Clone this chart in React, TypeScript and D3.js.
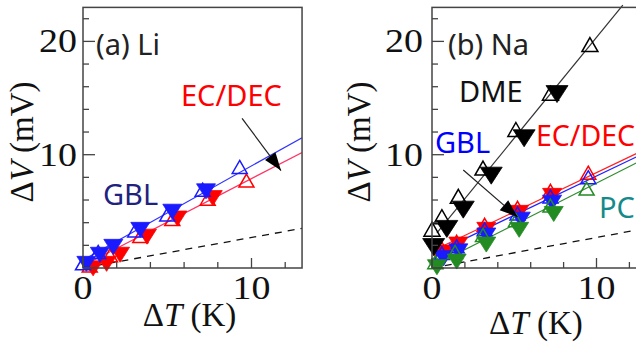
import * as d3 from 'd3';

// axis ticks
const xTicks = [0, 2, 4, 6, 8, 10, 12];
const xLabels = [0, 10];
const yTicks = [0, 2, 4, 6, 8, 10, 12, 14, 16, 18, 20, 22];
const yLabels = [0, 10, 20];

// (a) Li
const liEcdecOpenT = [0.4, 1.6, 3.4, 5.3, 7.4, 9.7];
const liEcdecOpenV = [0.1, 1.0, 2.7, 4.2, 6.0, 7.6];
const liEcdecFilledT = [0.6, 1.4, 2.2, 3.8, 5.6, 7.7];
const liEcdecFilledV = [0.1, 0.5, 1.3, 2.9, 4.5, 6.3];
const liEcdecFit = [[0, 0.2], [13, 10.2]];
const liGblOpenT = [0.0, 0.9, 3.1, 5.0, 7.1, 9.3];
const liGblOpenV = [0.3, 1.3, 3.2, 4.6, 6.8, 8.8];
const liGblFilledT = [0.2, 1.0, 1.8, 3.4, 5.3, 7.3];
const liGblFilledV = [0.5, 1.3, 2.0, 3.5, 5.1, 6.9];
const liGblFit = [[0, 0.7], [13, 11.5]];

// (b) Na
const naEcdecOpenT = [0.6, 1.5, 3.2, 5.2, 7.2, 9.5];
const naEcdecOpenV = [1.6, 2.2, 3.7, 5.2, 6.7, 8.3];
const naEcdecFilledT = [0.7, 1.6, 3.3, 5.3, 7.3];
const naEcdecFilledV = [1.5, 2.2, 3.5, 5.0, 6.5];
const naEcdecFit = [[0.3, 1.7], [13, 10.5]];
const naGblOpenT = [0.6, 1.5, 3.2, 5.2, 7.2, 9.5];
const naGblOpenV = [1.2, 1.8, 3.3, 4.7, 6.2, 7.9];
const naGblFilledT = [0.7, 1.6, 3.3, 5.4, 7.3];
const naGblFilledV = [1.0, 1.6, 3.0, 4.4, 5.9];
const naGblFit = [[0.3, 1.4], [13, 10.2]];
const naPcOpenT = [0.2, 1.4, 3.1, 5.1, 7.2, 9.4];
const naPcOpenV = [0.4, 1.3, 2.8, 4.1, 5.4, 6.9];
const naPcFilledT = [0.3, 1.5, 3.3, 5.3, 7.4];
const naPcFilledV = [0.2, 0.7, 2.2, 3.5, 4.9];
const naPcFit = [[0.2, 0.3], [13, 9.7]];
const naDmeOpenT = [0.0, 0.6, 1.6, 3.1, 5.1, 7.2, 9.6];
const naDmeOpenV = [3.3, 4.4, 6.2, 8.7, 12.1, 15.3, 19.6];
const naDmeFilledT = [0.1, 0.9, 1.9, 3.6, 5.6, 7.6];
const naDmeFilledV = [2.0, 3.6, 5.3, 8.3, 11.6, 15.5];
const naDmeFit = [[0.3, 3.1], [11.6, 23.2]];

// dashed reference line
const refLine = [[0, 0], [13, 3.5]];

const serif = "'Liberation Serif', 'Times New Roman', serif";
const sans = "'Noto Sans', sans-serif";

const RED = '#ff0000';
const BLUE = '#1a1aff';
const GREEN = '#228b22';

function tri(w: number, h: number, down: boolean) {
  const s = down ? -1 : 1;
  return `M0,${-s * h * 0.6}L${w / 2},${s * h * 0.4}L${-w / 2},${s * h * 0.4}Z`;
}

type Series = {
  color: string;
  line: string;
  openT: number[];
  openV: number[];
  filledT: number[];
  filledV: number[];
  fit: number[][];
  big?: boolean;
};

function Panel(props: {
  x0: number;
  unit: number;
  series: Series[];
  arrow: number[][];
  titleX: number;
  xTitleY: number;
  tickLabelDx: number;
  children?: any;
}) {
  const { x0, series, arrow } = props;
  const x = d3.scaleLinear().domain([0, 13]).range([x0, x0 + 13 * props.unit]);
  const y = d3.scaleLinear().domain([0, 23]).range([268, 7.4]);
  const line = d3
    .line<number[]>()
    .x((d) => x(d[0]))
    .y((d) => y(d[1]));
  const [r0, r1] = x.range();
  const clipId = `clip${x0}`;
  const ax = x(arrow[0][0]);
  const ay = y(arrow[0][1]);
  const bx = x(arrow[1][0]);
  const by = y(arrow[1][1]);
  const ang = (Math.atan2(by - ay, bx - ax) * 180) / Math.PI;

  return (
    <g>
      <defs>
        <clipPath id={clipId}>
          <rect x={r0} y={0} width={r1 - r0} height={268} />
        </clipPath>
      </defs>
      <g clipPath={`url(#${clipId})`}>
        <path d={line(refLine) || ''} stroke="#111" strokeWidth={1.3} strokeDasharray="7,6" fill="none" />
        {series.map((s, i) => (
          <path key={i} d={line(s.fit) || ''} stroke={s.line} strokeWidth={1.2} fill="none" />
        ))}
      </g>
      {series.map((s, i) => (
        <g key={i}>
          {s.openT.map((t, j) => (
            <path
              key={'o' + j}
              d={tri(s.big ? 16 : 15, s.big ? 14 : 13, false)}
              transform={`translate(${x(t)},${y(s.openV[j])})`}
              fill="none"
              stroke={s.color}
              strokeWidth={1.5}
            />
          ))}
          {s.filledT.map((t, j) => (
            <path
              key={'f' + j}
              d={tri(s.big ? 22 : 19, s.big ? 17 : 15, true)}
              transform={`translate(${x(t)},${y(s.filledV[j])})`}
              fill={s.color}
              stroke={s.color}
              strokeWidth={0.8}
            />
          ))}
        </g>
      ))}
      {/* arrow */}
      <line x1={ax} y1={ay} x2={bx} y2={by} stroke="#222" strokeWidth={1.2} />
      <path d="M0,0L-18,-6.5L-18,6.5Z" fill="#000" transform={`translate(${bx},${by}) rotate(${ang})`} />
      {/* frame */}
      <rect x={r0} y={7.4} width={r1 - r0} height={268 - 7.4} fill="none" stroke="#444" strokeWidth={1.5} />
      {yTicks.map((t) => (
        <line key={'y' + t} x1={r0} x2={r0 + (t % 10 === 0 ? 12 : 6)} y1={y(t)} y2={y(t)} stroke="#444" strokeWidth={1.3} />
      ))}
      {xTicks.map((t) => (
        <line key={'x' + t} x1={x(t)} x2={x(t)} y1={268} y2={268 - (t % 10 === 0 ? 10 : 6)} stroke="#444" strokeWidth={1.3} />
      ))}
      {yLabels.map((t) => (
        <text
          key={'yl' + t}
          transform={`translate(${r0 - props.tickLabelDx},${y(t) + 11}) scale(1.15,1)`}
          textAnchor="end"
          fontFamily={serif}
          fontSize={33}
          fill="#111"
        >
          {t === 0 ? '' : t}
        </text>
      ))}
      {xLabels.map((t) => (
        <text
          key={'xl' + t}
          transform={`translate(${x(t)},299) scale(1.15,1)`}
          textAnchor="middle"
          fontFamily={serif}
          fontSize={33}
          fill="#111"
        >
          {t}
        </text>
      ))}
      <text transform={`translate(${props.titleX},142) rotate(-90)`} textAnchor="middle" fontFamily={serif} fontSize={33} fill="#111">
        Δ<tspan fontStyle="italic">V</tspan> (mV)
      </text>
      <text x={(r0 + x(13)) / 2 - 3} y={props.xTitleY} textAnchor="middle" fontFamily={serif} fontSize={33} fill="#111">
        Δ<tspan fontStyle="italic">T</tspan> (K)
      </text>
      {props.children}
    </g>
  );
}

export default function App() {
  const liSeries: Series[] = [
    { color: RED, line: '#ff3366', openT: liEcdecOpenT, openV: liEcdecOpenV, filledT: liEcdecFilledT, filledV: liEcdecFilledV, fit: liEcdecFit },
    { color: BLUE, line: '#3333ff', openT: liGblOpenT, openV: liGblOpenV, filledT: liGblFilledT, filledV: liGblFilledV, fit: liGblFit },
  ];
  const naSeries: Series[] = [
    { color: RED, line: '#ff2222', openT: naEcdecOpenT, openV: naEcdecOpenV, filledT: naEcdecFilledT, filledV: naEcdecFilledV, fit: naEcdecFit },
    { color: BLUE, line: '#2222ff', openT: naGblOpenT, openV: naGblOpenV, filledT: naGblFilledT, filledV: naGblFilledV, fit: naGblFit },
    { color: GREEN, line: '#2e8b2e', openT: naPcOpenT, openV: naPcOpenV, filledT: naPcFilledT, filledV: naPcFilledV, fit: naPcFit },
    { color: '#000', line: '#333', openT: naDmeOpenT, openV: naDmeOpenV, filledT: naDmeFilledT, filledV: naDmeFilledV, fit: naDmeFit, big: true },
  ];

  return (
    <svg
      width={636}
      height={347}
      viewBox="0 0 636 347"
      style={{ position: 'absolute', left: 0, top: 0, background: '#fff' }}
    >
      <Panel x0={83} unit={16.85} series={liSeries} arrow={[[9.44, 13.2], [11.75, 8.6]]} titleX={33} xTitleY={326} tickLabelDx={6}>
        <text x={96} y={55} fontFamily={sans} fontSize={29} fill="#222">(a) Li</text>
        <text x={181} y={106} fontFamily={sans} fontSize={29} fill={RED}>EC/DEC</text>
        <text x={103} y={205} fontFamily={sans} fontSize={29} fill="#1f237f">GBL</text>
      </Panel>
      <Panel x0={432} unit={16.45} series={naSeries} arrow={[[1.9, 8.65], [5.2, 4.5]]} titleX={370} xTitleY={334} tickLabelDx={9}>
        <text x={448} y={55} fontFamily={sans} fontSize={29} fill="#222">(b) Na</text>
        <text x={459} y={102} fontFamily={sans} fontSize={29} fill="#111">DME</text>
        <text x={435} y={153} fontFamily={sans} fontSize={29} fill="#0000ff">GBL</text>
        <text x={536} y={146} fontFamily={sans} fontSize={28.5} fill={RED}>EC/DEC</text>
        <text x={599} y={218} fontFamily={sans} fontSize={29} fill="#148a8a">PC</text>
      </Panel>
    </svg>
  );
}
